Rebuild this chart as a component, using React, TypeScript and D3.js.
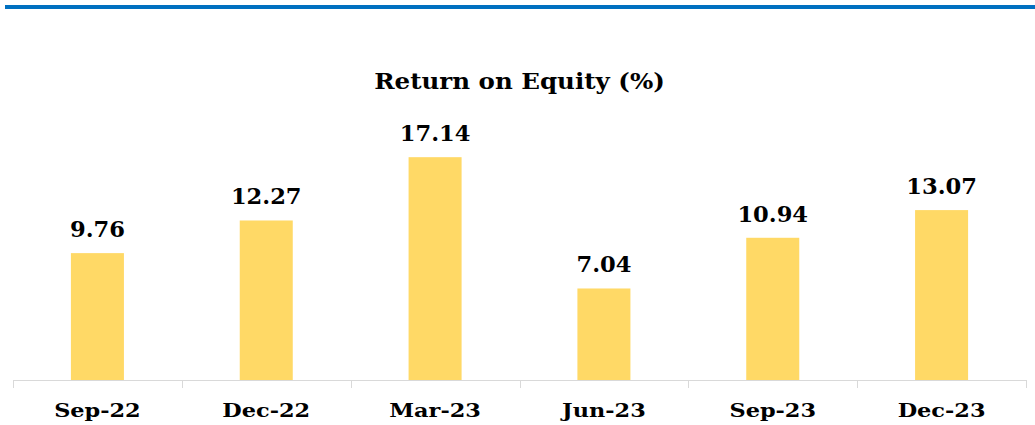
import React from "react";
import * as d3 from "d3";

const categories = ["Sep-22", "Dec-22", "Mar-23", "Jun-23", "Sep-23", "Dec-23"];
const values = [9.76, 12.27, 17.14, 7.04, 10.94, 13.07];
const title = "Return on Equity (%)";

const W = 1035;
const H = 425;
const FONT = "'DejaVu Serif', 'Liberation Serif', serif";

export default function App() {
  const x = d3.scaleBand<string>().domain(categories).range([13, 1026]).paddingInner(0.686).paddingOuter(0.343);
  const y = d3.scaleLinear().domain([0, 20]).range([380, 120]);
  const tickXs = [13, ...categories.map((c) => (x(c) as number) + x.bandwidth() / 2 + x.step() / 2)];

  return (
    <svg width={W} height={H} style={{ position: "absolute", left: 0, top: 0, background: "#fff" }}>
      <rect x={5} y={5} width={W - 5} height={4} fill="#0070C0" />
      <g transform="translate(519.5,89) scale(1.115,1)">
        <text x={0} y={0} textAnchor="middle" fontFamily={FONT} fontWeight="bold" fontSize={22} fill="#000">
          {title}
        </text>
      </g>
      {categories.map((c, i) => {
        const cx = (x(c) as number) + x.bandwidth() / 2;
        return (
          <g key={c}>
            <rect x={x(c)} y={y(values[i])} width={x.bandwidth()} height={y(0) - y(values[i])} fill="#FFD966" />
            <g transform={`translate(${cx},${y(values[i]) - 16}) scale(1.05,1)`}>
              <text x={0} y={0} textAnchor="middle" fontFamily={FONT} fontWeight="bold" fontSize={21.5} fill="#000">
                {values[i].toFixed(2)}
              </text>
            </g>
            <g transform={`translate(${cx},417) scale(1.18,1)`}>
              <text x={0} y={0} textAnchor="middle" fontFamily={FONT} fontWeight="bold" fontSize={19} fill="#000">
                {c}
              </text>
            </g>
          </g>
        );
      })}
      <line x1={13} x2={1026} y1={380.5} y2={380.5} stroke="#D9D9D9" strokeWidth={1} />
      {tickXs.map((t, i) => (
        <line key={i} x1={Math.round(t) + 0.5} x2={Math.round(t) + 0.5} y1={380} y2={388} stroke="#D9D9D9" strokeWidth={1} />
      ))}
    </svg>
  );
}
